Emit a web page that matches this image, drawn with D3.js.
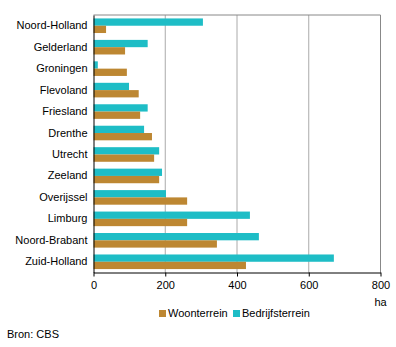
<!DOCTYPE html>
<html><head><meta charset="utf-8">
<script src="https://cdn.jsdelivr.net/npm/d3@7"></script>
<style>body{margin:0;background:#fff}svg{display:block;font-family:"Liberation Sans",Arial,sans-serif;font-size:11px}</style>
</head><body><svg id="c" width="396" height="347"></svg>
<script>
const categories = ["Noord-Holland","Gelderland","Groningen","Flevoland","Friesland","Drenthe","Utrecht","Zeeland","Overijssel","Limburg","Noord-Brabant","Zuid-Holland"];
const bedrijfsterrein = [305,151,12,99,151,141,183,191,202,436,461,670];
const woonterrein = [35,88,93,126,130,163,169,183,261,261,344,425];
const xTicks = [0,200,400,600,800];
const seriesNames = ["Woonterrein","Bedrijfsterrein"];
const colors = {Woonterrein:"#BD8732", Bedrijfsterrein:"#1EBDC6"};

const svg = d3.select("#c");
const L=93.5, R=380.5, T=15, B=272.5;
const x = d3.scaleLinear().domain([0,800]).range([L,R]);
const y = d3.scaleBand().domain(categories).range([T,B]).paddingInner(0.32).paddingOuter(0.16);
const sub = d3.scaleBand().domain(["Bedrijfsterrein","Woonterrein"]).range([0,y.bandwidth()]);

// grid
svg.append("g").selectAll("line").data(xTicks.slice(1,4)).join("line")
  .attr("x1",d=>x(d)).attr("x2",d=>x(d)).attr("y1",T).attr("y2",B)
  .attr("stroke","#aaaaaa").attr("stroke-width",1);
svg.append("line").attr("x1",L).attr("x2",R).attr("y1",T).attr("y2",T).attr("stroke","#888").attr("stroke-width",1);
svg.append("line").attr("x1",R).attr("x2",R).attr("y1",T).attr("y2",B).attr("stroke","#888").attr("stroke-width",1);

const data = categories.map((c,i)=>({c, Bedrijfsterrein:bedrijfsterrein[i], Woonterrein:woonterrein[i]}));
const g = svg.append("g");
["Bedrijfsterrein","Woonterrein"].forEach(s=>{
  g.selectAll("rect."+s).data(data).join("rect").attr("class",s)
    .attr("x",x(0)).attr("y",d=>y(d.c)+sub(s)).attr("height",sub.bandwidth())
    .attr("width",d=>x(d[s])-x(0)).attr("fill",colors[s]);
});

// axes
const xa = svg.append("g").attr("transform",`translate(0,${B})`)
  .call(d3.axisBottom(x).tickValues(xTicks).tickSize(4).tickSizeOuter(0).tickPadding(5));
xa.select(".domain").attr("stroke","#000");
xa.selectAll(".tick line").attr("stroke","#000");
xa.selectAll("text").attr("font-size",11).attr("fill","#000").attr("font-family","Liberation Sans, Arial, sans-serif");
const ya = svg.append("g").attr("transform",`translate(${L},0)`)
  .call(d3.axisLeft(y).tickSize(0).tickPadding(6));
ya.select(".domain").attr("stroke","#000");
ya.selectAll("text").attr("font-size",11).attr("fill","#000").attr("font-family","Liberation Sans, Arial, sans-serif");

svg.append("text").attr("x",x(800)).attr("y",306).attr("text-anchor","middle").text("ha");

// legend
const lg = svg.append("g");
const lpos = [{s:"Woonterrein",x:159,tx:168},{s:"Bedrijfsterrein",x:233,tx:242}];
lpos.forEach(p=>{
  lg.append("rect").attr("x",p.x).attr("y",310).attr("width",7).attr("height",7).attr("fill",colors[p.s]);
  lg.append("text").attr("x",p.tx).attr("y",317).text(p.s);
});
svg.append("text").attr("x",7).attr("y",338).text("Bron: CBS");
</script></body></html>
